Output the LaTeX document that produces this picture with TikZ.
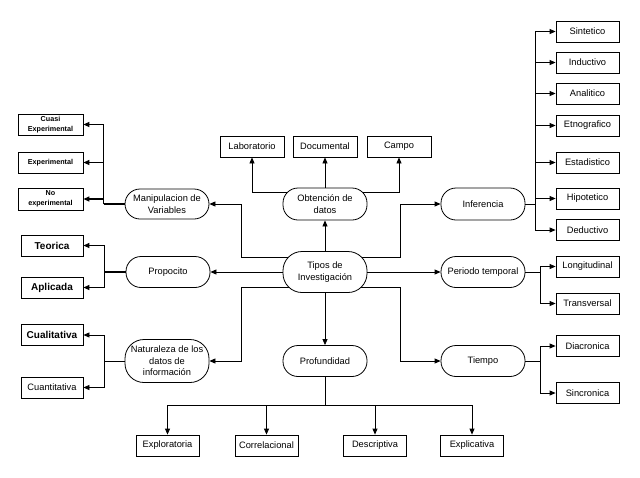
\documentclass[tikz,border=0pt]{standalone}
\usepackage{fontspec}
\setmainfont{Liberation Sans}
\usetikzlibrary{arrows.meta,backgrounds}

\begin{document}
\begin{tikzpicture}[x=1pt, y=-1pt, >={Triangle[length=6pt,width=5pt]},
    font=\fontsize{9.3}{11.5}\selectfont,
    oval/.style={draw, line width=0.8pt, fill=white, rounded corners=15pt, minimum width=84pt, minimum height=31pt, inner sep=1pt, align=center},
    leaf/.style={draw, line width=0.8pt, fill=white, rectangle, minimum width=63pt, minimum height=21pt, inner sep=1pt, align=center},
    small/.style={font=\fontsize{7.2}{10}\selectfont\bfseries},
    link/.style={->, line width=0.8pt},
    heavy/.style={->, line width=1.4pt}]
    \useasboundingbox (0,0) rectangle (640,477);

    \node (tipos) at (325,272) [oval, minimum height=41pt, rounded corners=19pt] {Tipos de\\Investigación};
    \node (obt) at (325,204) [oval, minimum height=32pt] {Obtención de\\datos};
    \node (prof) at (325,361) [oval] {Profundidad};
    \node (manip) at (167,204) [oval, minimum height=30pt] {Manipulacion de\\Variables};
    \node (propo) at (168,272) [oval] {Propocito};
    \node (natu) at (167,361) [oval, minimum height=43pt, rounded corners=19pt] {Naturaleza de los\\datos de\\información};
    \node (infer) at (483,204) [oval, minimum height=32pt] {Inferencia};
    \node (periodo) at (483,272) [oval] {Periodo temporal};
    \node (tiempo) at (483,361) [oval] {Tiempo};

    \node (lab) at (252,146.5) [leaf, minimum width=64pt] {Laboratorio};
    \node (doc) at (325,146.5) [leaf, minimum width=64pt] {Documental};
    \node (campo) at (399,146.5) [leaf, minimum width=64pt] {Campo};

    \node (explo) at (167.5,445.5) [leaf] {Exploratoria};
    \node (corr) at (266.5,445.5) [leaf] {Correlacional};
    \node (desc) at (375,445.5) [leaf] {Descriptiva};
    \node (expl) at (472,445.5) [leaf] {Explicativa};

    \node (cuasi) at (50.5,124.5) [leaf, small, minimum width=65pt] {Cuasi\\Experimental};
    \node (exper) at (50.5,162.5) [leaf, small, minimum width=65pt] {Experimental};
    \node (noexp) at (50.5,199) [leaf, small, minimum width=65pt, minimum height=22pt] {No\\experimental};
    \node (teo) at (52,245.5) [leaf, minimum width=62pt, font=\bfseries] {Teorica};
    \node (apl) at (52,287.5) [leaf, minimum width=62pt, font=\bfseries] {Aplicada};
    \node (cual) at (52,335) [leaf, minimum width=62pt, font=\bfseries] {Cualitativa};
    \node (cuan) at (52,387.5) [leaf, minimum width=62pt] {Cuantitativa};

    \node (sint) at (587.5,31.5) [leaf] {Sintetico};
    \node (induc) at (587.5,62.5) [leaf] {Inductivo};
    \node (anal) at (587.5,93.5) [leaf] {Analitico};
    \node (etno) at (587.5,125.5) [leaf] {Etnografico};
    \node (esta) at (587.5,162.5) [leaf] {Estadistico};
    \node (hipo) at (587.5,198.5) [leaf] {Hipotetico};
    \node (deduc) at (587.5,230) [leaf] {Deductivo};
    \node (longi) at (587.5,266.5) [leaf] {Longitudinal};
    \node (trans) at (587.5,303.5) [leaf] {Transversal};
    \node (diac) at (587.5,346) [leaf] {Diacronica};
    \node (sinc) at (587.5,393) [leaf] {Sincronica};

    \coordinate (pb) at ([yshift=-28pt]prof.south);
    \coordinate (mb) at ([xshift=-21pt]manip.west);
    \coordinate (ob) at ([xshift=-21pt]propo.west);
    \coordinate (nb) at ([xshift=-20pt]natu.west);
    \coordinate (ib) at ([xshift=10pt]infer.east);
    \coordinate (rb) at ([xshift=15pt]periodo.east);
    \coordinate (tb) at ([xshift=15pt]tiempo.east);

    \begin{pgfonlayer}{background}
    \draw[link] ([yshift=15pt]tipos.center) -| ([xshift=32pt]manip.east) -- (manip.east);
    \draw[link] ([yshift=15pt]tipos.center) -| ([xshift=-40pt]infer.west) -- (infer.west);
    \draw[link] ([yshift=-15pt]tipos.center) -| ([xshift=32pt]natu.east) -- (natu.east);
    \draw[link] ([yshift=-15pt]tipos.center) -| ([xshift=-40pt]tiempo.west) -- (tiempo.west);
    \draw[link] ([yshift=12pt]obt.center) -| (lab.south);
    \draw[link] ([yshift=12pt]obt.center) -| (campo.south);
    \end{pgfonlayer}

    \draw[link] (tipos.north) -- (obt.south);
    \draw[link] (obt.north) -- (doc.south);
    \draw[link] (tipos.south) -- (prof.north);
    \draw[link] (tipos.west) -- (propo.east);
    \draw[link] (tipos.east) -- (periodo.west);

    \draw[line width=0.8pt] (prof.south) -- (pb);
    \draw[link] (pb) -| (explo.north);
    \draw[link] (pb) -| (corr.north);
    \draw[link] (pb) -| (desc.north);
    \draw[link] (pb) -| (expl.north);

    \draw[heavy, -] (manip.west) -- (mb);
    \draw[heavy] (mb) |- (cuasi.east);
    \draw[heavy] (mb) |- (exper.east);
    \draw[heavy] (mb) |- (noexp.east);

    \draw[heavy, -] (propo.west) -- (ob);
    \draw[heavy] (ob) |- (teo.east);
    \draw[heavy] (ob) |- (apl.east);

    \draw[line width=0.8pt] (natu.west) -- (nb);
    \draw[link] (nb) |- (cual.east);
    \draw[link] (nb) |- (cuan.east);

    \draw[line width=0.8pt] (infer.east) -- (ib);
    \draw[link] (ib) |- (sint.west);
    \draw[link] (ib) |- (induc.west);
    \draw[link] (ib) |- (anal.west);
    \draw[link] (ib) |- (etno.west);
    \draw[link] (ib) |- (esta.west);
    \draw[link] (ib) |- (hipo.west);
    \draw[link] (ib) |- (deduc.west);

    \draw[line width=0.8pt] (periodo.east) -- (rb);
    \draw[link] (rb) |- (longi.west);
    \draw[link] (rb) |- (trans.west);

    \draw[line width=0.8pt] (tiempo.east) -- (tb);
    \draw[link] (tb) |- (diac.west);
    \draw[link] (tb) |- (sinc.west);
\end{tikzpicture}
\end{document}
